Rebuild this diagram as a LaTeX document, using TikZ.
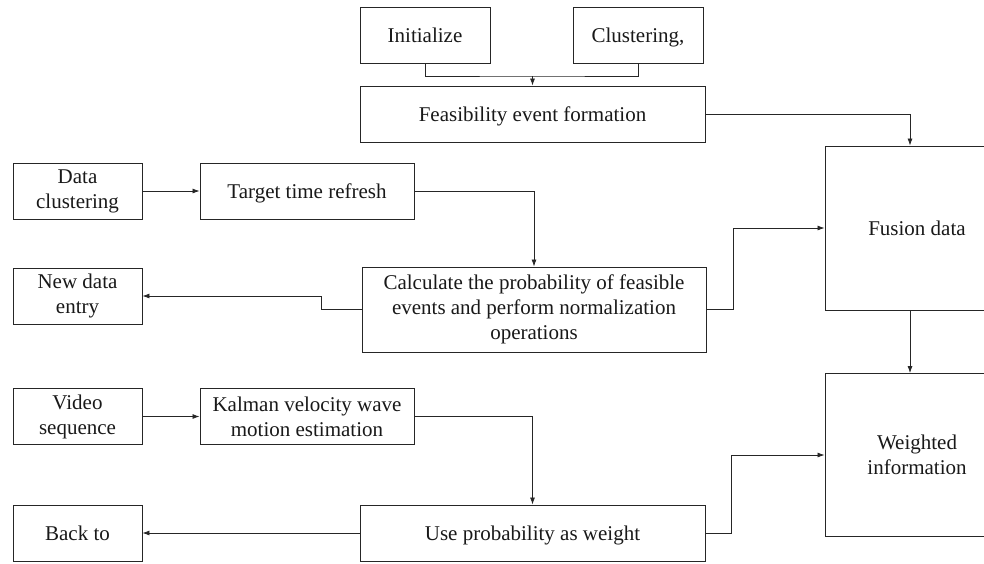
\documentclass[tikz,border=0pt]{standalone}
\usepackage{fontspec}
\setmainfont{Liberation Serif}
\usetikzlibrary{arrows.meta}
\begin{document}
\begin{tikzpicture}[x=1pt,y=-1pt,
  box/.style={draw=black!85, line width=0.9pt, inner sep=0pt, align=center,
    font=\fontsize{21}{25}\selectfont, text=black!90},
  oneline/.style={text height=15pt, text depth=1pt},
  conn/.style={draw=black!85, line width=0.8pt},
  arr/.style={conn, -{Latex[length=7pt,width=5pt]}}]
\fill[white] (0,0) rectangle (984,563);
\useasboundingbox (0,0) rectangle (984,563);
\node[box, oneline, minimum width=130pt, minimum height=56pt] (init) at (425,35) {Initialize};
\node[box, oneline, minimum width=130pt, minimum height=56pt] (clus) at (638,35) {Clustering,};
\node[box, oneline, minimum width=345pt, minimum height=56pt] (feas) at (532.5,114) {Feasibility event formation};
\node[box, minimum width=129pt, minimum height=56pt] (dclu) at (77.5,191) {Data\\clustering};
\node[box, oneline, minimum width=214pt, minimum height=56pt] (ttr) at (307,191) {Target time refresh};
\node[box, minimum width=129pt, minimum height=56pt] (nde) at (77.5,296) {New data\\entry};
\node[box, minimum width=344pt, minimum height=85pt] (calc) at (534,309.5) {Calculate the probability of feasible\\events and perform normalization\\operations};
\node[box, minimum width=129pt, minimum height=56pt] (vid) at (77.5,416.5) {Video\\sequence};
\node[box, minimum width=214pt, minimum height=56pt] (kal) at (307,416.5) {Kalman velocity wave\\motion estimation};
\node[box, oneline, minimum width=129pt, minimum height=56pt] (back) at (77.5,533) {Back to};
\node[box, oneline, minimum width=345pt, minimum height=56pt] (use) at (532.5,533) {Use probability as weight};
\node[box, oneline, minimum width=184pt, minimum height=164pt] (fus) at (917,228) {Fusion data};
\node[box, minimum width=184pt, minimum height=163pt] (wei) at (917,455) {Weighted\\information};
\coordinate (j) at (532.5,76);
\draw[conn] (init.south) |- (j) -| (clus.south);
\draw[arr] (j) -- (feas.north);
\draw[arr] (feas.east) -| ([xshift=-7pt]fus.north);
\draw[arr] (dclu.east) -- (ttr.west);
\draw[arr] (ttr.east) -| (calc.north);
\draw[arr] (calc.west) -- ++(-40,0) |- (nde.east);
\draw[arr] (calc.east) -- ++(27,0) |- (fus.west);
\draw[arr] ([xshift=-7pt]fus.south) -- ([xshift=-7pt]wei.north);
\draw[arr] (vid.east) -- (kal.west);
\draw[arr] (kal.east) -| (use.north);
\draw[arr] (use.west) -- (back.east);
\draw[arr] (use.east) -- ++(26,0) |- (wei.west);
\end{tikzpicture}
\end{document}
